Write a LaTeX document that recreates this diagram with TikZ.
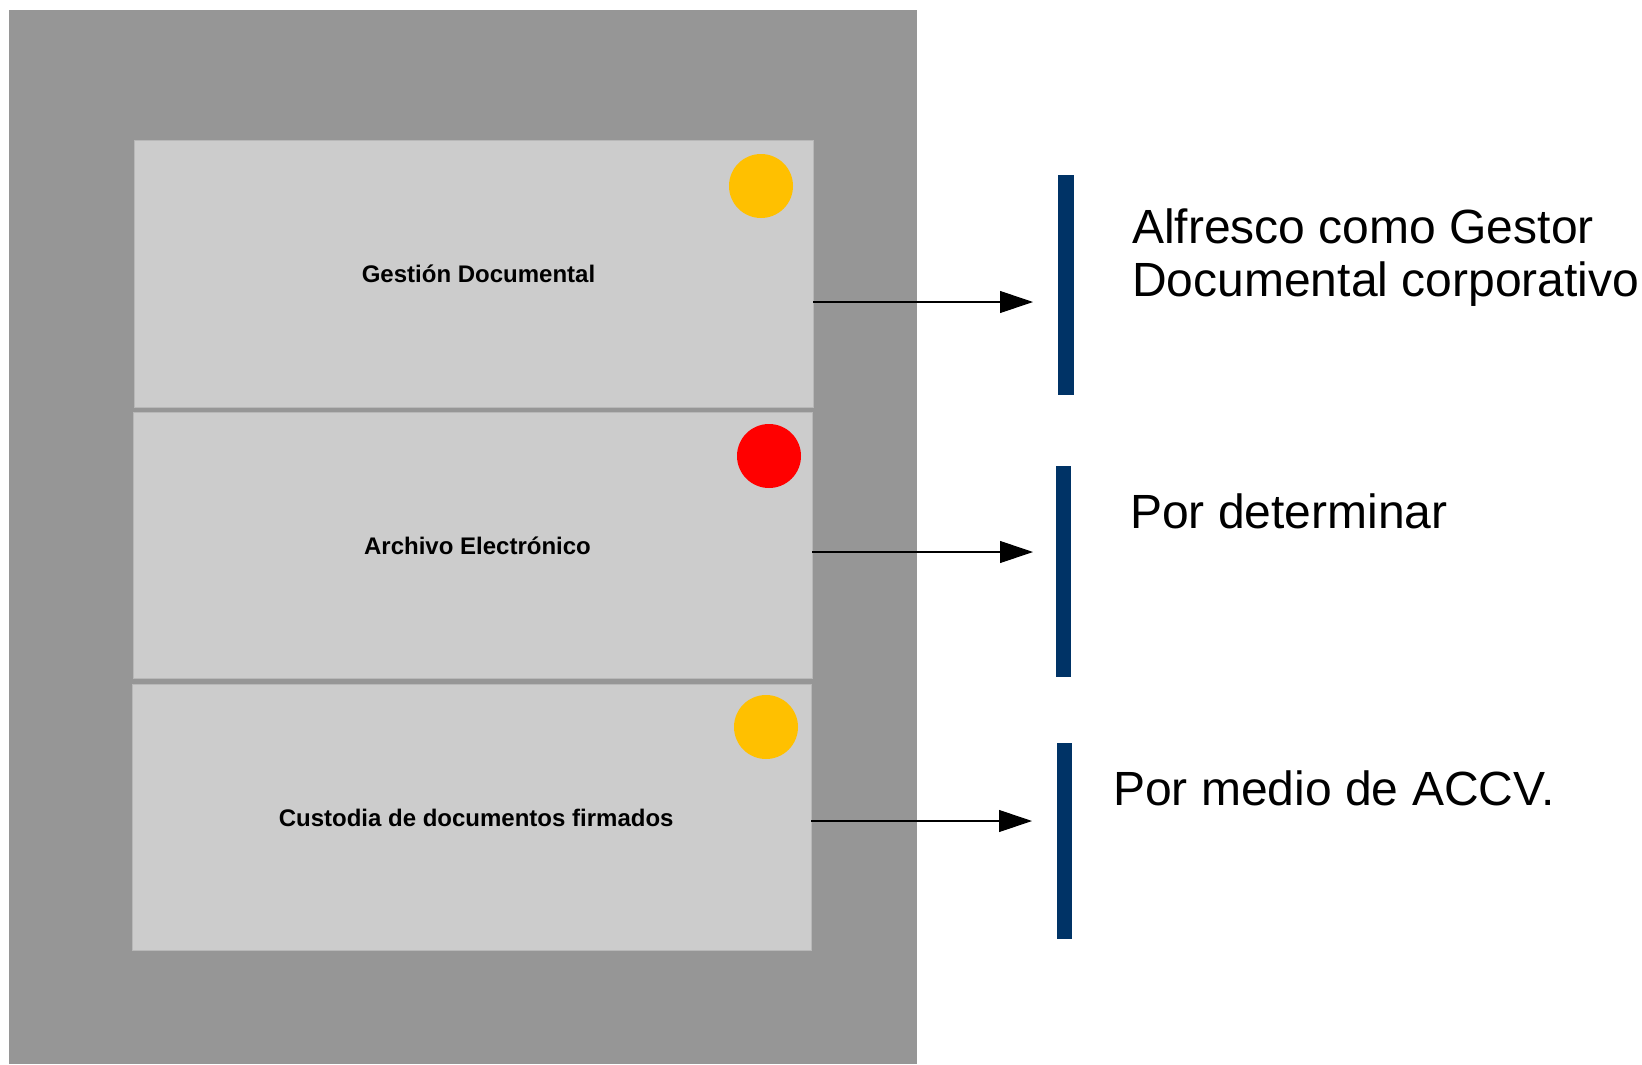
\documentclass[tikz,border=0pt]{standalone}
\usepackage{fontspec}
\setmainfont{Liberation Sans}
\usetikzlibrary{arrows.meta}
\definecolor{panelgray}{HTML}{969696}
\definecolor{boxgray}{HTML}{CCCCCC}
\definecolor{boxedge}{HTML}{B8B8B8}
\definecolor{amber}{HTML}{FFC000}
\definecolor{navybar}{HTML}{003366}
\tikzset{
  panelbox/.style={fill=panelgray, inner sep=0pt, minimum width=681pt, minimum height=790.875pt},
  itembox/.style={fill=boxgray, draw=boxedge, line width=0.6pt, inner sep=0pt,
    minimum width=509.25pt, minimum height=200pt,
    font=\fontsize{18}{21.6}\selectfont\bfseries},
  dot/.style={circle, inner sep=0pt, minimum size=48pt},
  bar/.style={fill=navybar, inner sep=0pt, minimum width=11.5pt},
  conn/.style={draw=black, line width=0.8pt, -{Triangle[length=24.75pt, width=16.5pt]}},
  bigtext/.style={anchor=base west, align=left, inner sep=0pt,
    font=\fontsize{36}{39.75}\selectfont}
}
\begin{document}
\begin{tikzpicture}[x=0.75pt, y=-0.75pt]
\useasboundingbox[fill=white] (0,0) rectangle (1642,1064);
\node[panelbox] (panel) at (463,536.75) {};
\node[itembox] (b1) at (473.5,273.75) {\hspace*{7.5pt}Gestión Documental};
\node[itembox] (b2) at (472.5,545.5) {\hspace*{7.5pt}Archivo Electrónico};
\node[itembox] (b3) at (471.5,817.5) {\hspace*{7pt}Custodia de documentos firmados};
\node[dot, fill=amber] (c1) at (761,186) {};
\node[dot, fill=red] (c2) at (769,456) {};
\node[dot, fill=amber] (c3) at (766,727) {};
\node[bar, minimum height=165pt] (r1) at (1066,285) {};
\node[bar, minimum height=158.25pt] (r2) at (1063.5,571.5) {};
\node[bar, minimum height=147pt] (r3) at (1064.5,841) {};
\coordinate (t1) at (1033,302);
\coordinate (t2) at (1033,552);
\coordinate (t3) at (1032,821);
\draw[conn] (b1.east |- t1) -- (t1);
\draw[conn] (b2.east |- t2) -- (t2);
\draw[conn] (b3.east |- t3) -- (t3);
\node[bigtext] (l1) at (1132,296) {Alfresco como Gestor\\Documental corporativo};
\node[bigtext] (l2) at (1130,528.3) {Por determinar};
\node[bigtext] (l3) at (1113,805) {Por medio de ACCV.};
\end{tikzpicture}
\end{document}
